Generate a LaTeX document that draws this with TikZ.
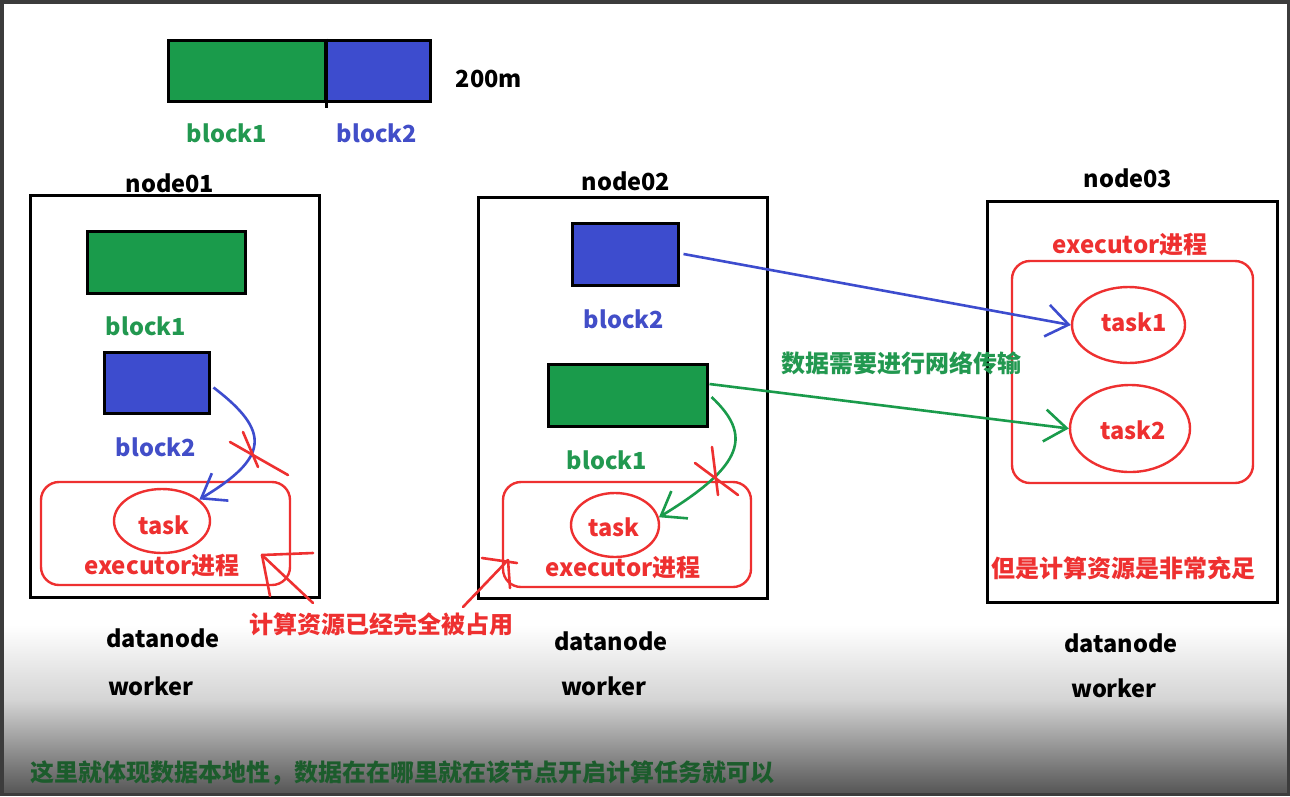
\documentclass[tikz,border=0pt]{standalone}
\usepackage{fontspec}
\setmainfont{Noto Sans CJK SC}
\usetikzlibrary{shapes.geometric,arrows.meta}
\definecolor{gfill}{RGB}{26,155,75}
\definecolor{bfill}{RGB}{61,76,206}
\definecolor{gtext}{RGB}{34,152,80}
\definecolor{btext}{RGB}{66,78,200}
\definecolor{rline}{RGB}{238,48,48}
\definecolor{dgreen}{RGB}{28,92,44}
\definecolor{frame}{RGB}{60,60,60}
\definecolor{gmid}{RGB}{212,212,212}
\definecolor{gbot}{RGB}{85,85,85}
\begin{document}
\begin{tikzpicture}[x=1pt,y=-1pt,
  txt/.style={inner sep=0pt,font=\bfseries\fontsize{23.5}{23.5}\selectfont},
  cjk/.style={inner sep=0pt,font=\bfseries\fontsize{24}{24}\selectfont},
  blk/.style={draw=black,line width=3pt,inner sep=0pt},
  gblk/.style={blk,fill=gfill},
  bblk/.style={blk,fill=bfill},
  hostbox/.style={draw=black,line width=3pt,inner sep=0pt},
  execbox/.style={draw=rline,line width=2.4pt,rounded corners=18pt,inner sep=0pt},
  taskell/.style={ellipse,draw=rline,line width=2.4pt,inner sep=0pt},
  barb/.style={-{Straight Barb[length=22pt,width=32pt,line width=2.6pt]}},
  bluearr/.style={draw=bfill,line width=2.6pt,barb},
  greenarr/.style={draw=gfill,line width=2.6pt,barb},
  redmark/.style={draw=rline,line width=2.6pt,line cap=round}]
\useasboundingbox (0,0) rectangle (1290,796);
% background
\fill[white] (0,0) rectangle (1290,796);
\shade[top color=white,bottom color=gmid] (0,625) rectangle (1290,700);
\shade[top color=gmid,bottom color=gbot] (0,700) rectangle (1290,794);
\draw[frame,line width=3.5pt] (1.75,1.75) rectangle (1288.25,794.25);

% top bar
\node[gblk,minimum width=157pt,minimum height=61pt] (topb1) at (246.5,70.5) {};
\node[bblk,minimum width=105pt,minimum height=61pt] (topb2) at (377.5,70.5) {};
\draw[black,line width=3pt] (topb1.north east) -- ([yshift=-5pt]topb1.south east);
\node[txt] (size) at (489,79) {200m};
\node[txt,text=gtext] (topl1) at (227,133) {block1};
\node[txt,text=btext] (topl2) at (377,133) {block2};

% node01
\node[txt] (n1lbl) at (170,183) {node01};
\node[hostbox,minimum width=289pt,minimum height=402pt] (n1) at (174.5,396) {};
\node[gblk,minimum width=158pt,minimum height=62pt] (g1n1) at (166,262) {};
\node[txt,text=gtext] (g1n1l) at (146,326) {block1};
\node[bblk,minimum width=105pt,minimum height=61pt] (b2n1) at (156.5,382.5) {};
\node[txt,text=btext] (b2n1l) at (156,447) {block2};
\node[execbox,minimum width=249pt,minimum height=103pt] (ex1) at (165.5,533.5) {};
\node[taskell,minimum width=96pt,minimum height=64pt] (task01) at (162,521) {};
\node[txt,text=rline] at (164,525) {task};
\node[cjk,text=rline] (ex1l) at (162,566) {executor进程};
\node[txt] (dn1) at (163,638) {datanode};
\node[txt] (wk1) at (151,686) {worker};

% node02
\node[txt] (n2lbl) at (626,181) {node02};
\node[hostbox,minimum width=289pt,minimum height=401pt] (n2) at (622.5,397.5) {};
\node[bblk,minimum width=106pt,minimum height=62pt] (b2n2) at (625,254) {};
\node[txt,text=btext] (b2n2l) at (624,319) {block2};
\node[gblk,minimum width=159pt,minimum height=62pt] (g1n2) at (627.5,395) {};
\node[txt,text=gtext] (g1n2l) at (607,460) {block1};
\node[execbox,minimum width=248pt,minimum height=105pt] (ex2) at (627,534.5) {};
\node[taskell,minimum width=88pt,minimum height=64pt] (task02) at (615,525) {};
\node[txt,text=rline] at (614,527) {task};
\node[cjk,text=rline] (ex2l) at (623,568) {executor进程};
\node[txt] (dn2) at (611,641) {datanode};
\node[txt] (wk2) at (604,686) {worker};

% node03
\node[txt] (n3lbl) at (1128,178) {node03};
\node[hostbox,minimum width=290pt,minimum height=401pt] (n3) at (1132,401.5) {};
\node[cjk,text=rline] (ex3l) at (1130,245) {executor进程};
\node[execbox,minimum width=241pt,minimum height=222pt] (ex3) at (1132.5,372) {};
\node[taskell,minimum width=113pt,minimum height=76pt] (task1) at (1128.5,325) {};
\node[txt,text=rline] at (1134,322) {task1};
\node[taskell,minimum width=120pt,minimum height=87pt] (task2) at (1130,428.5) {};
\node[txt,text=rline] at (1133,430) {task2};
\node[cjk,text=rline] (rich) at (1123,568) {但是计算资源是非常充足};
\node[txt] (dn3) at (1121,643) {datanode};
\node[txt] (wk3) at (1114,688) {worker};

% network transfer
\node[cjk,text=gtext] (net) at (901,363) {数据需要进行网络传输};
\draw[bluearr] ([xshift=4pt]b2n2.east) -- (task1.west);
\draw[greenarr] ([xshift=1pt,yshift=11pt]g1n2.east) -- (task2.west);

% local (blocked) paths
\draw[bluearr] ([xshift=3pt,yshift=-5pt]b2n1.east) .. controls (272,432) and (268,458) .. (task01.30);
\draw[greenarr] ([xshift=3pt,yshift=-2pt]g1n2.east) .. controls (752,435) and (745,465) .. (task02.10);

% red crosses
\draw[redmark] (230,442) -- (288,475);
\draw[redmark] (243,432) -- (258,467);
\draw[redmark] (712,447) -- (718,495);
\draw[redmark] (695,463) -- (738,495);

% occupied note and hand arrows
\node[cjk,text=rline] (busy) at (381,624) {计算资源已经完全被占用};
\coordinate (t1) at (262,555);
\draw[redmark] (313,603) -- (t1);
\draw[redmark] (t1) -- (313,553);
\draw[redmark] (t1) -- (270,596);
\coordinate (t2) at (508,560);
\draw[redmark] (463,607) -- (t2);
\draw[redmark] (482,558) -- (517,563);
\draw[redmark] (t2) -- (510,588);

% bottom note
\node[cjk,text=dgreen,anchor=west] (note) at (30,773) {这里就体现数据本地性，数据在在哪里就在该节点开启计算任务就可以};
\end{tikzpicture}
\end{document}
